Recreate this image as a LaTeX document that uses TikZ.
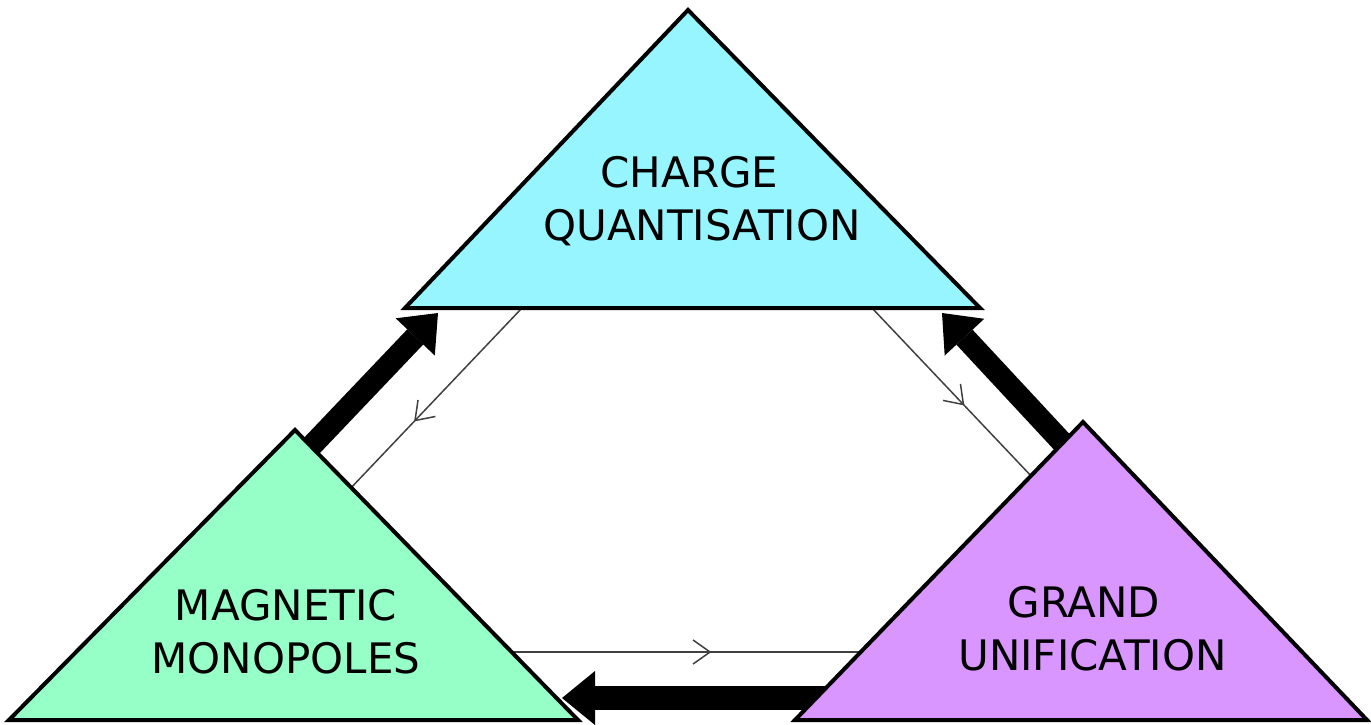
\documentclass[tikz,border=0pt]{standalone}
\usepackage{fontspec}
\setmainfont{DejaVu Sans}
\usetikzlibrary{arrows.meta,decorations.markings}
\definecolor{cqfill}{RGB}{150,245,255}
\definecolor{mmfill}{RGB}{150,255,200}
\definecolor{gufill}{RGB}{216,150,254}
\tikzset{
  tri/.style={draw=black,line width=4pt,line join=miter},
  lbl/.style={font=\fontsize{42}{53}\selectfont,align=center,inner sep=0pt},
  bigarrow/.style={line width=22pt,-{Triangle[length=33pt,width=54pt,line width=0pt]}},
  thinarrow/.style={line width=1.5pt,draw=black!75,postaction={decorate},
    decoration={markings,mark=at position #1 with {\arrow[line width=1.5pt]{Straight Barb[length=17pt,width=24pt]}}}},
}
\begin{document}
\begin{tikzpicture}[x=1pt,y=-1pt]
\useasboundingbox (0,0) rectangle (1371,724);
% triangle corners
\coordinate (cqT) at (688,10);  \coordinate (cqL) at (405,308); \coordinate (cqR) at (980,308);
\coordinate (mmT) at (295,430); \coordinate (mmL) at (9,720);   \coordinate (mmR) at (578,720);
\coordinate (guT) at (1083,422);\coordinate (guL) at (795,720); \coordinate (guR) at (1367,720);
% connector ends
\coordinate (t1a) at (522,308);  \coordinate (t1b) at (348,491);
\coordinate (t2a) at (872,308);  \coordinate (t2b) at (1034,479);
\coordinate (t3a) at (509,652);  \coordinate (t3b) at (864,652);
\coordinate (b1a) at (300,458);  \coordinate (b1b) at (438,313);
\coordinate (b2a) at (1074,455); \coordinate (b2b) at (942,313);
\coordinate (b3a) at (840,698);  \coordinate (b3b) at (562,698);
% thin arrows
\draw[thinarrow=0.62] (t1a) -- (t1b);
\draw[thinarrow=0.57] (t2a) -- (t2b);
\draw[thinarrow=0.57] (t3a) -- (t3b);
% thick arrows
\draw[bigarrow] (b1a) -- (b1b);
\draw[bigarrow] (b2a) -- (b2b);
\draw[bigarrow,line width=24pt] (b3a) -- (b3b);
% triangles
\filldraw[tri,fill=cqfill] (cqT) -- (cqL) -- (cqR) -- cycle;
\filldraw[tri,fill=mmfill] (mmT) -- (mmL) -- (mmR) -- cycle;
\filldraw[tri,fill=gufill] (guT) -- (guL) -- (guR) -- cycle;
% labels
\node[lbl] (cq) at (702,201) {CHARGE\hspace*{25pt}\\QUANTISATION};
\node[lbl] (mm) at (286,632) {MAGNETIC\\MONOPOLES};
\node[lbl] (gu) at (1092.5,629) {GRAND\hspace*{17pt}\\UNIFICATION};
\end{tikzpicture}
\end{document}
